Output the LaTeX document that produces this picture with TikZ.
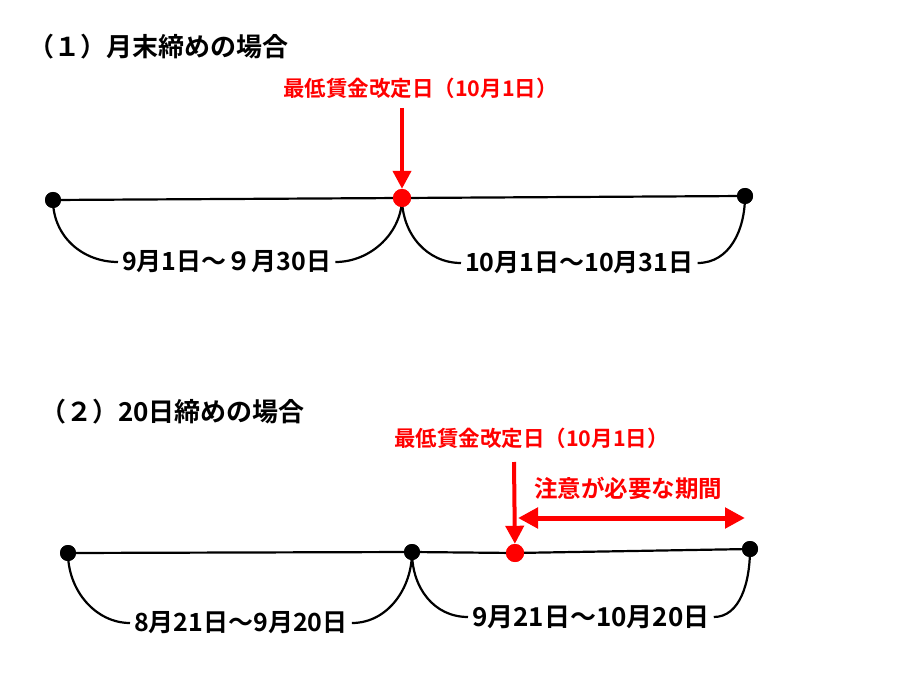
\documentclass[tikz,border=0pt]{standalone}
\usepackage{fontspec}
\newfontfamily\jp{Noto Sans CJK JP}[BoldFont={Noto Sans CJK JP Bold}]
\usetikzlibrary{arrows.meta}
\begin{document}
\begin{tikzpicture}[x=1pt,y=-1pt,
  bdot/.style={circle,fill=black,inner sep=0pt,minimum size=16pt},
  rdot/.style={circle,fill=red,inner sep=0pt,minimum size=18pt},
  ttl/.style={font=\jp\bfseries\fontsize{26}{30}\selectfont,anchor=west,inner sep=0pt},
  rlab/.style={font=\jp\bfseries\fontsize{21.5}{25}\selectfont,text=red,anchor=west,inner sep=0pt},
  rng/.style={font=\jp\bfseries\fontsize{25}{30}\selectfont,inner xsep=4pt,inner ysep=0pt},
  tl/.style={line width=2.2pt,black},
  rarrow/.style={red,line width=4pt,-{Triangle[length=18pt,width=18pt]}},
  darrow/.style={red,line width=5pt,{Triangle[length=20pt,width=20pt]}-{Triangle[length=20pt,width=20pt]}}]
\useasboundingbox (0,0) rectangle (910,695);
% ---------- section 1
\node[ttl] (t1) at (28,47) {（１）月末締めの場合};
\node[rlab] (l1) at (283,88) {最低賃金改定日（10月1日）};
\node[bdot] (a1) at (53,200) {};
\node[rdot] (a2) at (402,198) {};
\node[bdot] (a3) at (745,196) {};
\node[rng,anchor=west] (r1) at (118,262) {9月1日～９月30日};
\node[rng,anchor=west] (r2) at (461,263) {10月1日～10月31日};
\draw[tl] (a1.center) -- (a2.center) -- (a3.center);
\draw[tl] (a1.center) .. controls +(0,36) and +(-36,0) .. (r1.west);
\draw[tl] (r1.east) .. controls +(36,0) and +(0,34) .. (a2.center);
\draw[tl] (a2.center) .. controls +(0,36) and +(-34,0) .. (r2.west);
\draw[tl] (r2.east) .. controls +(32,0) and +(0,34) .. (a3.center);
\node[bdot] at (a1) {};
\node[rdot] at (a2) {};
\node[bdot] at (a3) {};
\coordinate (s1) at (402,108);
\draw[rarrow] (s1) -- (a2);
% ---------- section 2
\node[ttl] (t2) at (40,412) {（２）20日締めの場合};
\node[rlab] (l2) at (394,438) {最低賃金改定日（10月1日）};
\node[font=\jp\bfseries\fontsize{23.5}{28}\selectfont,text=red,anchor=west,inner sep=0pt] (n2) at (534,488) {注意が必要な期間};
\node[bdot] (b1) at (68,553) {};
\node[bdot] (b2) at (412,552) {};
\node[rdot] (b3) at (515,553) {};
\node[bdot] (b4) at (750,549) {};
\node[rng,anchor=west] (r3) at (130,623) {8月21日～9月20日};
\node[rng,anchor=west,font=\jp\bfseries\fontsize{26}{30}\selectfont] (r4) at (468,617) {9月21日～10月20日};
\draw[tl] (b1.center) -- (b2.center) -- (b3.center) -- (b4.center);
\draw[tl] (b1.center) .. controls +(0,38) and +(-34,0) .. (r3.west);
\draw[tl] (r3.east) .. controls +(36,0) and +(0,36) .. (b2.center);
\draw[tl] (b2.center) .. controls +(0,36) and +(-34,0) .. (r4.west);
\draw[tl] (r4.east) .. controls +(26,0) and +(0,34) .. (b4.center);
\node[bdot] at (b1) {};
\node[bdot] at (b2) {};
\node[rdot] at (b3) {};
\node[bdot] at (b4) {};
\coordinate (s2) at (514,462);
\draw[rarrow] (s2) -- (b3);
\coordinate (p1) at (518,518);
\coordinate (p2) at (745,518);
\draw[darrow] (p1) -- (p2);
\end{tikzpicture}
\end{document}
